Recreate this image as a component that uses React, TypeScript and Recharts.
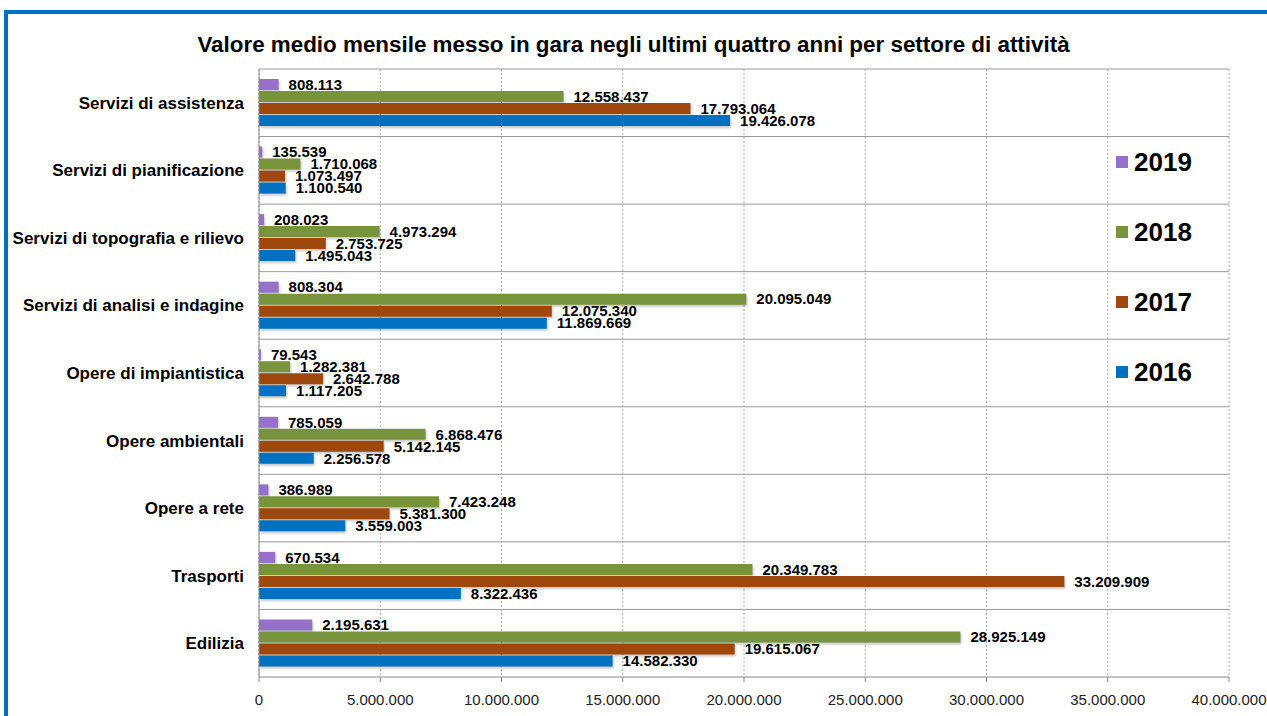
import {
  BarChart,
  Bar,
  XAxis,
  YAxis,
  CartesianGrid,
  LabelList
} from 'recharts'

const categories = [
  'Servizi di assistenza',
  'Servizi di pianificazione',
  'Servizi di topografia e rilievo',
  'Servizi di analisi e indagine',
  'Opere di impiantistica',
  'Opere ambientali',
  'Opere a rete',
  'Trasporti',
  'Edilizia'
]

const values2019 = [808113, 135539, 208023, 808304, 79543, 785059, 386989, 670534, 2195631]
const values2018 = [12558437, 1710068, 4973294, 20095049, 1282381, 6868476, 7423248, 20349783, 28925149]
const values2017 = [17793064, 1073497, 2753725, 12075340, 2642788, 5142145, 5381300, 33209909, 19615067]
const values2016 = [19426078, 1100540, 1495043, 11869669, 1117205, 2256578, 3559003, 8322436, 14582330]

const xTicks = [0, 5000000, 10000000, 15000000, 20000000, 25000000, 30000000, 35000000, 40000000]

const series = [
  { key: 'y2019', name: '2019', color: '#9671CA' },
  { key: 'y2018', name: '2018', color: '#77933C' },
  { key: 'y2017', name: '2017', color: '#9E480E' },
  { key: 'y2016', name: '2016', color: '#0070C0' }
]

const data = categories.map((name, i) => ({
  name,
  y2019: values2019[i],
  y2018: values2018[i],
  y2017: values2017[i],
  y2016: values2016[i]
}))

const FONT = "'Liberation Sans', Arial, sans-serif"

const formatIt = (v: number) =>
  String(Math.round(v)).replace(/\B(?=(\d{3})+(?!\d))/g, '.')

// legend drawn outside recharts so it does not shrink the plot area
const SideLegend = () => (
  <div
    style={{
      position: 'absolute',
      left: 1116,
      top: 127,
      fontFamily: FONT
    }}
  >
    {series.map((s) => (
      <div
        key={s.key}
        style={{ display: 'flex', alignItems: 'center', height: 70 }}
      >
        <span
          style={{
            display: 'inline-block',
            width: 12,
            height: 12,
            background: s.color,
            marginRight: 6
          }}
        />
        <span style={{ fontSize: 26, fontWeight: 'bold', color: '#000' }}>
          {s.name}
        </span>
      </div>
    ))}
  </div>
)

const App = () => {
  return (
    <div
      style={{
        position: 'fixed',
        left: 0,
        top: 0,
        width: 1267,
        height: 716,
        overflow: 'hidden',
        background: '#fff'
      }}
    >
      <div
        style={{
          position: 'absolute',
          left: 4,
          top: 10,
          width: 1320,
          height: 760,
          border: '4px solid #0070C0',
          boxSizing: 'border-box'
        }}
      />
      <div
        style={{
          position: 'absolute',
          left: 0,
          top: 31,
          width: 1267,
          textAlign: 'center',
          fontFamily: FONT,
          fontWeight: 'bold',
          fontSize: 22.4,
          lineHeight: '28px',
          color: '#000'
        }}
      >
        Valore medio mensile messo in gara negli ultimi quattro anni per settore di attività
      </div>
      <div style={{ position: 'absolute', left: 0, top: 0 }}>
        <BarChart
          width={1267}
          height={716}
          data={data}
          layout='vertical'
          margin={{ top: 69, right: 38, bottom: 9, left: 9 }}
          barSize={11}
          barGap={1}
        >
          <CartesianGrid
            stroke='#999'
            vertical={false}
            horizontalCoordinatesGenerator={({ offset }: any) =>
              categories.map((_, i) => offset.top + (i * offset.height) / categories.length)
            }
          />
          <CartesianGrid
            stroke='#aaa'
            strokeDasharray='2 2'
            horizontal={false}
          />
          <XAxis
            type='number'
            domain={[0, 40000000]}
            ticks={xTicks}
            interval={0}
            height={30}
            tickFormatter={formatIt}
            tickSize={5}
            tickMargin={12}
            stroke='#888'
            tick={{ fill: '#222', fontSize: 15, fontFamily: FONT }}
          />
          <YAxis
            type='category'
            dataKey='name'
            width={250}
            tickLine={false}
            tickMargin={9}
            stroke='#888'
            tick={{ fill: '#000', fontSize: 17, fontWeight: 'bold', fontFamily: FONT }}
          />
          {series.map((s) => (
            <Bar
              key={s.key}
              dataKey={s.key}
              name={s.name}
              fill={s.color}
              isAnimationActive={false}
              style={{ filter: 'drop-shadow(1px 2px 1px rgba(0,0,0,0.22))' }}
            >
              <LabelList
                dataKey={s.key}
                position='right'
                offset={10}
                formatter={(v: any) => formatIt(Number(v))}
                style={{ fill: '#000', fontSize: 15, fontWeight: 'bold', fontFamily: FONT }}
              />
            </Bar>
          ))}
        </BarChart>
      </div>
      <SideLegend />
    </div>
  )
}

export default App
